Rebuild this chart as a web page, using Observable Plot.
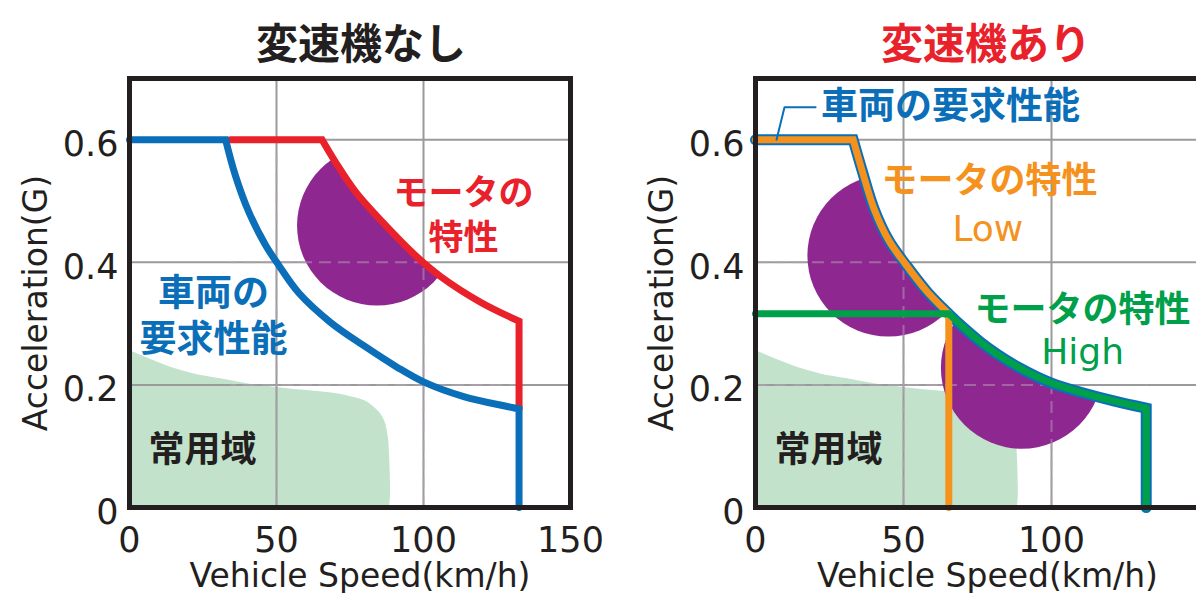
<!DOCTYPE html>
<html><head><meta charset="utf-8">
<script src="https://cdn.jsdelivr.net/npm/d3@7"></script>
<script src="https://cdn.jsdelivr.net/npm/@observablehq/plot@0.6"></script>
<style>
html,body{margin:0;padding:0;background:#fff;overflow:hidden;width:1196px;height:593px;}
.panel{position:absolute;top:0;height:593px;overflow:visible;}
.panel svg{position:absolute;left:0;top:60px;}
.title{position:absolute;top:11px;width:400px;height:60px;line-height:60px;text-align:center;
  font-family:"Noto Sans CJK JP","Noto Sans",sans-serif;font-weight:700;font-size:42px;white-space:nowrap;}
</style></head>
<body>
<div id="left" class="panel" style="left:0;width:600px"><div class="title" style="left:161px;color:#231f20">変速機なし</div></div>
<div id="right" class="panel" style="left:600px;width:600px"><div class="title" style="left:186px;color:#e9212b">変速機あり</div></div>
<script>
// ---------- data ----------
const xTicksLeft = [0, 50, 100, 150];
const xTicksRight = [0, 50, 100];
const yTicks = [0, 0.2, 0.4, 0.6];
const yTickLabels = ["0", "0.2", "0.4", "0.6"];
const gridXValues = [50, 100];
const gridYValues = [0.2, 0.4, 0.6];
const xTitle = "Vehicle Speed(km/h)";
const yTitle = "Acceleration(G)";

// 常用域 (common driving region) boundary
const commonSpeed = [0, 7, 14, 22, 31, 40, 50, 62, 70, 76, 80, 83.1, 85.5, 87.1, 88.2, 88.2];
const commonAcc   = [0.256, 0.242, 0.229, 0.218, 0.21, 0.202, 0.196, 0.19, 0.186, 0.18, 0.174, 0.164, 0.152, 0.137, 0.109, 0];

// left panel: vehicle requirement (blue) and motor characteristic (red)
const leftReqSpeed = [0, 32.7, 36.0, 40.6, 46.3, 50.8, 57.6, 68.4, 79.7, 91.0, 100, 113.7, 132.5];
const leftReqAcc   = [0.6, 0.6, 0.542, 0.482, 0.428, 0.395, 0.35, 0.302, 0.264, 0.229, 0.205, 0.181, 0.161];
const leftMotorSpeed = [34.4, 65.5, 70, 76.9, 86, 97.3, 105.8, 119.4, 132.5];
const leftMotorAcc   = [0.6, 0.6, 0.564, 0.515, 0.466, 0.411, 0.377, 0.335, 0.304];
const leftBlobSpeed = [84.2];
const leftBlobAcc   = [0.46];

// right panel: requirement curve, Low / High motor characteristics
const rightReqSpeed = [0, 33, 36, 40, 45, 51, 58, 65.3, 70.4, 76, 81.7, 88.4, 95.2, 100, 109.8, 121, 132];
const rightReqAcc   = [0.6, 0.6, 0.55, 0.488, 0.436, 0.395, 0.352, 0.316, 0.293, 0.27, 0.25, 0.23, 0.213, 0.203, 0.188, 0.174, 0.162];
const rightSwitchSpeed = 65.3;
const rightBlobSpeed = [44.9, 90];
const rightBlobAcc   = [0.411, 0.228];

// labels
const labelReq2 = "車両の\n要求性能";
const labelReq1 = "車両の要求性能";
const labelMotor = "モータの\n特性";
const labelMotorOne = "モータの特性";
const labelLow = "Low";
const labelHigh = "High";
const labelCommon = "常用域";

// ---------- styling ----------
const C = {blue: "#0a6fb8", red: "#e9212b", orange: "#f5921e", green: "#00a04a",
  purple: "#8e2890", common: "#c2e2cb", grid: "#9a9a9a", ink: "#231f20"};
const JP = '"Noto Sans CJK JP", "Noto Sans", sans-serif';
const LATIN = '"DejaVu Sans", sans-serif';

const rows = (xs, ys) => xs.map((x, i) => ({speed: x, acc: ys[i]}));
const common = rows(commonSpeed, commonAcc);

// left paths
const lReq = rows(leftReqSpeed, leftReqAcc);
const lReqEnd = lReq[lReq.length - 1];
const leftBluePath = [lReq[0], lReq[1], ...lReq.slice(1), lReqEnd, {speed: lReqEnd.speed, acc: 0}];
const lMot = rows(leftMotorSpeed, leftMotorAcc);
const lMotEnd = lMot[lMot.length - 1];
const leftRedPath = [lMot[0], lMot[1], ...lMot.slice(1), lMotEnd, {speed: lMotEnd.speed, acc: lReqEnd.acc}];

// right paths
const rReq = rows(rightReqSpeed, rightReqAcc);
const sw = rightReqSpeed.indexOf(rightSwitchSpeed);
const rSw = rReq[sw];
const rEnd = rReq[rReq.length - 1];
const rightBluePath = [rReq[0], rReq[1], ...rReq.slice(1), rEnd, {speed: rEnd.speed, acc: 0}];
const orangePath = [rReq[0], rReq[1], ...rReq.slice(1, sw + 1), rSw, {speed: rSw.speed, acc: 0}];
const greenPath = [{speed: 0, acc: rSw.acc}, rSw, ...rReq.slice(sw), rEnd, {speed: rEnd.speed, acc: 0}];

// clip the purple blobs (and their faint grid) to the region under a characteristic curve
function clip(svg, regionLabel, targetLabel, id) {
  const ns = "http://www.w3.org/2000/svg";
  const regionPaths = [...svg.querySelectorAll(`path[aria-label="${regionLabel}"]`)];
  const targets = [...svg.querySelectorAll(`[aria-label="${targetLabel}"]`)];
  if (!regionPaths.length || !targets.length) return;
  const regionG = regionPaths[0].closest("g");
  const tr = regionG && regionG.getAttribute("transform");
  const cp = document.createElementNS(ns, "clipPath");
  cp.setAttribute("id", id);
  regionPaths.forEach(p => {
    const c = p.cloneNode(true);
    c.removeAttribute("aria-label");
    if (tr) c.setAttribute("transform", tr);
    cp.appendChild(c);
  });
  let defs = svg.querySelector("defs");
  if (!defs) { defs = document.createElementNS(ns, "defs"); svg.insertBefore(defs, svg.firstChild); }
  defs.appendChild(cp);
  const groups = new Set(targets.map(t => t.tagName.toLowerCase() === "g" ? t : t.closest("g")));
  groups.forEach(g => {
    if (!g || !g.parentNode) return;
    const wrap = document.createElementNS(ns, "g");
    wrap.setAttribute("clip-path", `url(#${id})`);
    g.parentNode.insertBefore(wrap, g);
    wrap.appendChild(g);
  });
  if (regionG) regionG.remove(); else regionPaths.forEach(p => p.remove());
}

function baseMarks() {
  return [
    Plot.areaY(common, {x: "speed", y: "acc", fill: C.common, curve: "catmull-rom"}),
    Plot.gridX(gridXValues, {stroke: C.grid, strokeOpacity: 1, strokeWidth: 2}),
    Plot.gridY(gridYValues, {stroke: C.grid, strokeOpacity: 1, strokeWidth: 2}),
  ];
}
function blobMarks(speeds, accs, r, label) {
  const blobs = rows(speeds, accs);
  return [
    Plot.dot(blobs, {x: "speed", y: "acc", r, fill: C.purple, stroke: "none", ariaLabel: () => label}),
    Plot.gridX(gridXValues, {stroke: "#b7a3b8", strokeOpacity: 0.5, strokeWidth: 2, strokeDasharray: "12,7", ariaLabel: label}),
    Plot.gridY(gridYValues, {stroke: "#b7a3b8", strokeOpacity: 0.5, strokeWidth: 2, strokeDasharray: "12,7", ariaLabel: label}),
  ];
}
function axes(xTicks) {
  return [
    Plot.frame({stroke: C.ink, strokeWidth: 5}),
    Plot.axisX(xTicks, {tickSize: 0, tickPadding: 20, fontSize: 35, label: null}),
    Plot.axisY(yTicks, {tickSize: 0, tickPadding: 11, dy: 5, fontSize: 35, label: null,
      tickFormat: d => yTickLabels[yTicks.indexOf(d)]}),
    Plot.text([xTitle], {text: d => d, frameAnchor: "bottom", lineAnchor: "middle", textAnchor: "middle", dx: 10, dy: 69, fontSize: 33}),
    Plot.text([yTitle], {text: d => d, frameAnchor: "left", lineAnchor: "middle", textAnchor: "middle", rotate: -90, dx: -93, dy: 10, fontSize: 33}),
  ];
}
const lineStyle = {x: "speed", y: "acc", curve: "catmull-rom", strokeLinejoin: "miter", strokeMiterlimit: 4};
const base = {height: 533, marginTop: 18, marginBottom: 86,
  y: {domain: [0, 0.7]}, x: {domain: [0, 150]},
  style: {fontFamily: LATIN, fontSize: "35px", color: C.ink, background: "transparent", overflow: "visible"}};

const left = Plot.plot({...base, width: 600, marginLeft: 129, marginRight: 30,
  marks: [
    ...baseMarks(),
    ...blobMarks(leftBlobSpeed, leftBlobAcc, 80, "blob-left"),
    Plot.areaY(leftRedPath, {x: "speed", y: "acc", curve: "catmull-rom", fill: "black", ariaLabel: () => "clip-left"}),
    Plot.line(leftRedPath, {...lineStyle, stroke: C.red, strokeWidth: 7}),
    Plot.line(leftBluePath, {...lineStyle, stroke: C.blue, strokeWidth: 7}),
    ...axes(xTicksLeft),
    Plot.text([labelMotor], {text: d => d, x: 113.6, y: 0.481, fill: C.red, fontSize: 35, lineHeight: 1.29, fontFamily: JP, fontWeight: 700}),
    Plot.text([labelReq2], {text: d => d, x: 28.6, y: 0.315, fill: C.blue, fontSize: 37, lineHeight: 1.24, fontFamily: JP, fontWeight: 700}),
    Plot.text([labelCommon], {text: d => d, x: 24.8, y: 0.093, fill: C.ink, fontSize: 36, fontFamily: JP, fontWeight: 700}),
  ]});
clip(left, "clip-left", "blob-left", "clipL");
document.getElementById("left").appendChild(left);

const right = Plot.plot({...base, width: 600, marginLeft: 155, marginRight: 1,
  marks: [
    ...baseMarks(),
    ...blobMarks(rightBlobSpeed, rightBlobAcc, 81, "blob-right"),
    Plot.areaY(rightBluePath, {x: "speed", y: "acc", curve: "catmull-rom", fill: "black", ariaLabel: () => "clip-right"}),
    Plot.line(rightBluePath, {...lineStyle, stroke: C.blue, strokeWidth: 11}),
    Plot.line(orangePath, {...lineStyle, stroke: C.orange, strokeWidth: 7}),
    Plot.line(greenPath, {...lineStyle, stroke: C.green, strokeWidth: 7}),
    Plot.line([{speed: 20.3, acc: 0.653}, {speed: 9.8, acc: 0.653}, {speed: 7.1, acc: 0.6}], {x: "speed", y: "acc", stroke: C.blue, strokeWidth: 2}),
    ...axes(xTicksRight),
    Plot.text([labelReq1], {text: d => d, x: 65.9, y: 0.653, fill: C.blue, fontSize: 37, fontFamily: JP, fontWeight: 700}),
    Plot.text([labelMotorOne], {text: d => d, x: 79.05, y: 0.532, fill: C.orange, fontSize: 36, fontFamily: JP, fontWeight: 700}),
    Plot.text([labelLow], {text: d => d, x: 78.5, y: 0.454, fill: C.orange, fontSize: 36, fontFamily: LATIN}),
    Plot.text([labelMotorOne], {text: d => d, x: 110.5, y: 0.3216, fill: C.green, fontSize: 36, fontFamily: JP, fontWeight: 700}),
    Plot.text([labelHigh], {text: d => d, x: 110.5, y: 0.253, fill: C.green, fontSize: 36, fontFamily: LATIN}),
    Plot.text([labelCommon], {text: d => d, x: 24.7, y: 0.093, fill: C.ink, fontSize: 36, fontFamily: JP, fontWeight: 700}),
  ]});
clip(right, "clip-right", "blob-right", "clipR");
document.getElementById("right").appendChild(right);
</script>
</body></html>
